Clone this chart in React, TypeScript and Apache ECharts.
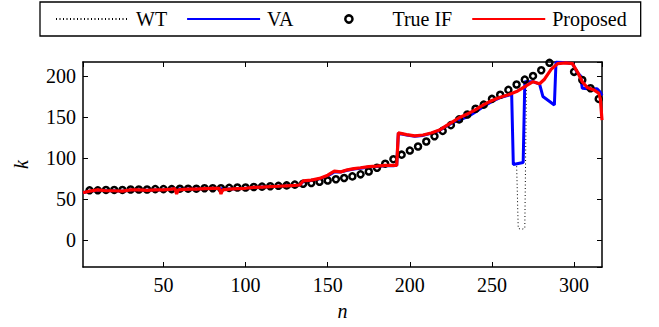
import React, { useEffect, useRef } from "react";
import * as echarts from "echarts";

const FONT = "Liberation Serif";

// Axis ranges and tick labels
const xRange = [1, 317];
const yRange = [-33, 217];
const xTicks = [50, 100, 150, 200, 250, 300];
const yTicks = [0, 50, 100, 150, 200];

// True instantaneous frequency (sampled every 5)
const trueIfN = [
  5, 10, 15, 20, 25, 30, 35, 40, 45, 50, 55, 60, 65, 70, 75, 80, 85, 90, 95, 100,
  105, 110, 115, 120, 125, 130, 135, 140, 145, 150, 155, 160, 165, 170, 175, 180,
  185, 190, 195, 200, 205, 210, 215, 220, 225, 230, 235, 240, 245, 250, 255, 260,
  265, 270, 275, 280, 285, 290, 295, 300, 305, 310, 315,
];
const trueIfK = [
  60.5, 60.5, 61, 61, 61, 61.5, 61.5, 61.5, 62, 62, 62, 62.5, 62.5, 62.5, 63, 63, 63, 63.5, 64, 64,
  64.5, 65, 65.5, 66, 66.5, 67.5, 68.5, 69.5, 71, 72.5, 74, 75.5, 77.5, 80, 83.5, 88,
  93, 98.5, 104, 109, 114, 120, 126.5, 133, 140, 147, 153, 160, 165, 172, 177, 183,
  189.5, 195.5, 200, 207, 216, 220, 218, 205, 195, 185, 172,
];

// Proposed estimate
const proposed: [number, number][] = [
  [1, 57.5], [5, 59.5], [10, 61], [15, 60], [20, 60], [25, 59.5], [30, 61], [35, 61],
  [40, 60.5], [45, 61], [50, 61], [55, 62], [57, 62.5], [58, 56], [59, 61], [65, 62],
  [70, 62], [75, 62.5], [80, 63], [84, 63], [85, 56], [86, 61], [90, 62], [95, 62.5],
  [100, 63], [105, 64], [110, 64.5], [115, 65], [120, 65.5], [125, 66], [130, 66.5],
  [133, 67], [135, 72], [140, 73], [145, 75], [150, 79], [154, 84], [158, 83],
  [162, 85.5], [166, 87], [170, 88], [175, 89.5], [180, 90], [185, 91], [190, 91],
  [192, 91], [193, 130.5], [198, 128.5], [203, 127], [208, 128], [213, 130.5],
  [218, 134], [222, 139], [226, 144], [230, 149], [235, 153.5], [240, 159], [245, 165],
  [250, 170], [255, 174], [260, 177], [265, 181], [270, 187], [275, 193], [279, 190.5],
  [282, 196], [286, 208], [290, 215], [295, 216], [299, 215], [302, 205], [305, 193],
  [308, 186], [312, 183], [315, 179], [316, 172], [317, 146],
];

// VA estimate
const va: [number, number][] = [
  [1, 57.5], [5, 59.5], [10, 60.5], [15, 60], [20, 60], [25, 59.5], [30, 61], [35, 61],
  [40, 60.5], [45, 61], [50, 61], [55, 62], [60, 62], [65, 62], [70, 62], [75, 62.5],
  [80, 63], [85, 62.5], [90, 62], [95, 62.5], [100, 63], [105, 64], [110, 64.5],
  [115, 65], [120, 65.5], [125, 66], [130, 66.5], [133, 67], [135, 71], [140, 72.5],
  [145, 74.5], [150, 78], [154, 83], [158, 83], [162, 85], [166, 86.5], [170, 87.5],
  [175, 89], [180, 89.5], [185, 90.5], [190, 90.5], [192, 91], [193, 130], [198, 128],
  [203, 126.5], [208, 127.5], [213, 130], [218, 133.5], [222, 138.5], [226, 143],
  [230, 146], [235, 150], [240, 156], [245, 163], [250, 169], [255, 173.5], [260, 176.5],
  [262, 177.5], [263, 92], [269, 94.5], [270, 193], [275, 193], [279, 190], [281, 175],
  [288, 164.5], [289, 217], [295, 216], [299, 215], [302, 204], [304, 200], [305, 185],
  [310, 184], [314, 184.5], [316, 180], [317, 176],
];

// WT estimate
const wt: [number, number][] = [
  [1, 57.5], [5, 59.5], [10, 60.5], [15, 60], [20, 60], [25, 59.5], [30, 61], [35, 61],
  [40, 60.5], [45, 61], [50, 61], [55, 62], [60, 62], [65, 62], [70, 62], [75, 62.5],
  [80, 63], [85, 62.5], [90, 62], [95, 62.5], [100, 63], [105, 64], [110, 64.5],
  [115, 65], [120, 65.5], [125, 66], [130, 66.5], [133, 67], [135, 71], [140, 72.5],
  [145, 74.5], [150, 78], [154, 83], [158, 83], [162, 85], [166, 86.5], [170, 87.5],
  [175, 89], [180, 89.5], [185, 90.5], [190, 90.5], [192, 91], [193, 130], [198, 128],
  [203, 126.5], [208, 127.5], [213, 130], [218, 133.5], [222, 138.5], [226, 143],
  [230, 146], [235, 150], [240, 156], [245, 163], [250, 169], [255, 173.5], [260, 176.5],
  [262, 177.5], [263, 92], [265, 93], [266, 14], [268, 13], [270, 14], [271, 192],
  [275, 193], [279, 190], [281, 175], [288, 164.5], [289, 217], [295, 216], [299, 215],
  [302, 204], [304, 200], [305, 185], [310, 184], [314, 184.5], [316, 180], [317, 176],
];

const legendNames = ["WT", "VA", "True IF", "Proposed"];

export default function App() {
  const ref = useRef<HTMLDivElement>(null);

  useEffect(() => {
    if (!ref.current) return;
    const chart = echarts.init(ref.current, null, { renderer: "svg" });
    const labelText = {
      fontFamily: FONT,
      fontSize: 20,
      color: "#000",
    };
    const axisCommon = {
      type: "value" as const,
      axisLine: { show: true, onZero: false, lineStyle: { color: "#000", width: 1.5 } },
      splitLine: { show: false },
    };
    const tick = { show: true, inside: true, length: 5, lineStyle: { color: "#000", width: 1 } };
    const trueIf = trueIfN.map((n, i) => [n, trueIfK[i]]);
    const hiddenSymbol = { color: "rgba(0,0,0,0)", borderWidth: 0, opacity: 0 };
    chart.setOption({
      animation: false,
      backgroundColor: "#fff",
      textStyle: { fontFamily: FONT },
      grid: { left: 83, right: 57, top: 62, bottom: 60 },
      legend: {
        left: 40,
        top: 2,
        padding: [7, 14, 7, 15],
        borderColor: "#000",
        borderWidth: 1.3,
        itemWidth: 73,
        itemHeight: 9,
        itemGap: 19,
        textStyle: { fontFamily: FONT, fontSize: 20, color: "#000", padding: [0, 0, 0, 2] },
        data: [
          { name: legendNames[0], itemStyle: hiddenSymbol },
          { name: legendNames[1], itemStyle: hiddenSymbol },
          {
            name: legendNames[2],
            lineStyle: { width: 0, opacity: 0 },
            itemStyle: { color: "rgba(0,0,0,0)", borderColor: "#000", borderWidth: 2.5, opacity: 1 },
          },
          { name: legendNames[3], itemStyle: hiddenSymbol },
        ],
      },
      xAxis: [
        {
          ...axisCommon,
          position: "bottom",
          min: xRange[0],
          max: xRange[1],
          splitNumber: xTicks.length,
          name: "n",
          nameLocation: "middle",
          nameGap: 34,
          nameTextStyle: { fontFamily: FONT, fontSize: 20, fontStyle: "italic", color: "#000" },
          axisTick: tick,
          axisLabel: { show: true, showMinLabel: false, showMaxLabel: false, margin: 8, ...labelText },
        },
        {
          ...axisCommon,
          position: "top",
          min: xRange[0],
          max: xRange[1],
          splitNumber: xTicks.length,
          axisTick: tick,
          axisLabel: { show: false },
        },
      ],
      yAxis: [
        {
          ...axisCommon,
          position: "left",
          min: yRange[0],
          max: yRange[1],
          splitNumber: yTicks.length,
          name: "k",
          nameLocation: "middle",
          nameGap: 52,
          nameTextStyle: { fontFamily: FONT, fontSize: 20, fontStyle: "italic", color: "#000" },
          axisTick: tick,
          axisLabel: { show: true, showMinLabel: false, showMaxLabel: false, margin: 7, ...labelText },
        },
        {
          ...axisCommon,
          position: "right",
          min: yRange[0],
          max: yRange[1],
          splitNumber: yTicks.length,
          axisTick: tick,
          axisLabel: { show: false },
        },
      ],
      series: [
        {
          type: "line",
          name: legendNames[0],
          data: wt,
          symbol: "none",
          lineStyle: { color: "#000", width: 1, type: [1, 2.5] },
          itemStyle: { color: "#000" },
          z: 1,
        },
        {
          type: "line",
          name: legendNames[1],
          data: va,
          symbol: "none",
          lineStyle: { color: "#0000ff", width: 3 },
          itemStyle: { color: "#0000ff" },
          z: 2,
        },
        {
          type: "line",
          name: legendNames[2],
          data: trueIf,
          symbol: "circle",
          showSymbol: true,
          showAllSymbol: true,
          symbolSize: 6,
          clip: true,
          lineStyle: { width: 0, opacity: 0 },
          itemStyle: { color: "rgba(0,0,0,0)", borderColor: "#000", borderWidth: 2.5, opacity: 1 },
          z: 3,
        },
        {
          type: "line",
          name: legendNames[3],
          data: proposed,
          symbol: "none",
          lineStyle: { color: "#ff0000", width: 3.2 },
          itemStyle: { color: "#ff0000" },
          z: 4,
        },
      ],
    });
    return () => chart.dispose();
  }, []);

  return <div ref={ref} style={{ width: 659, height: 327, position: "absolute", left: 0, top: 0 }} />;
}
